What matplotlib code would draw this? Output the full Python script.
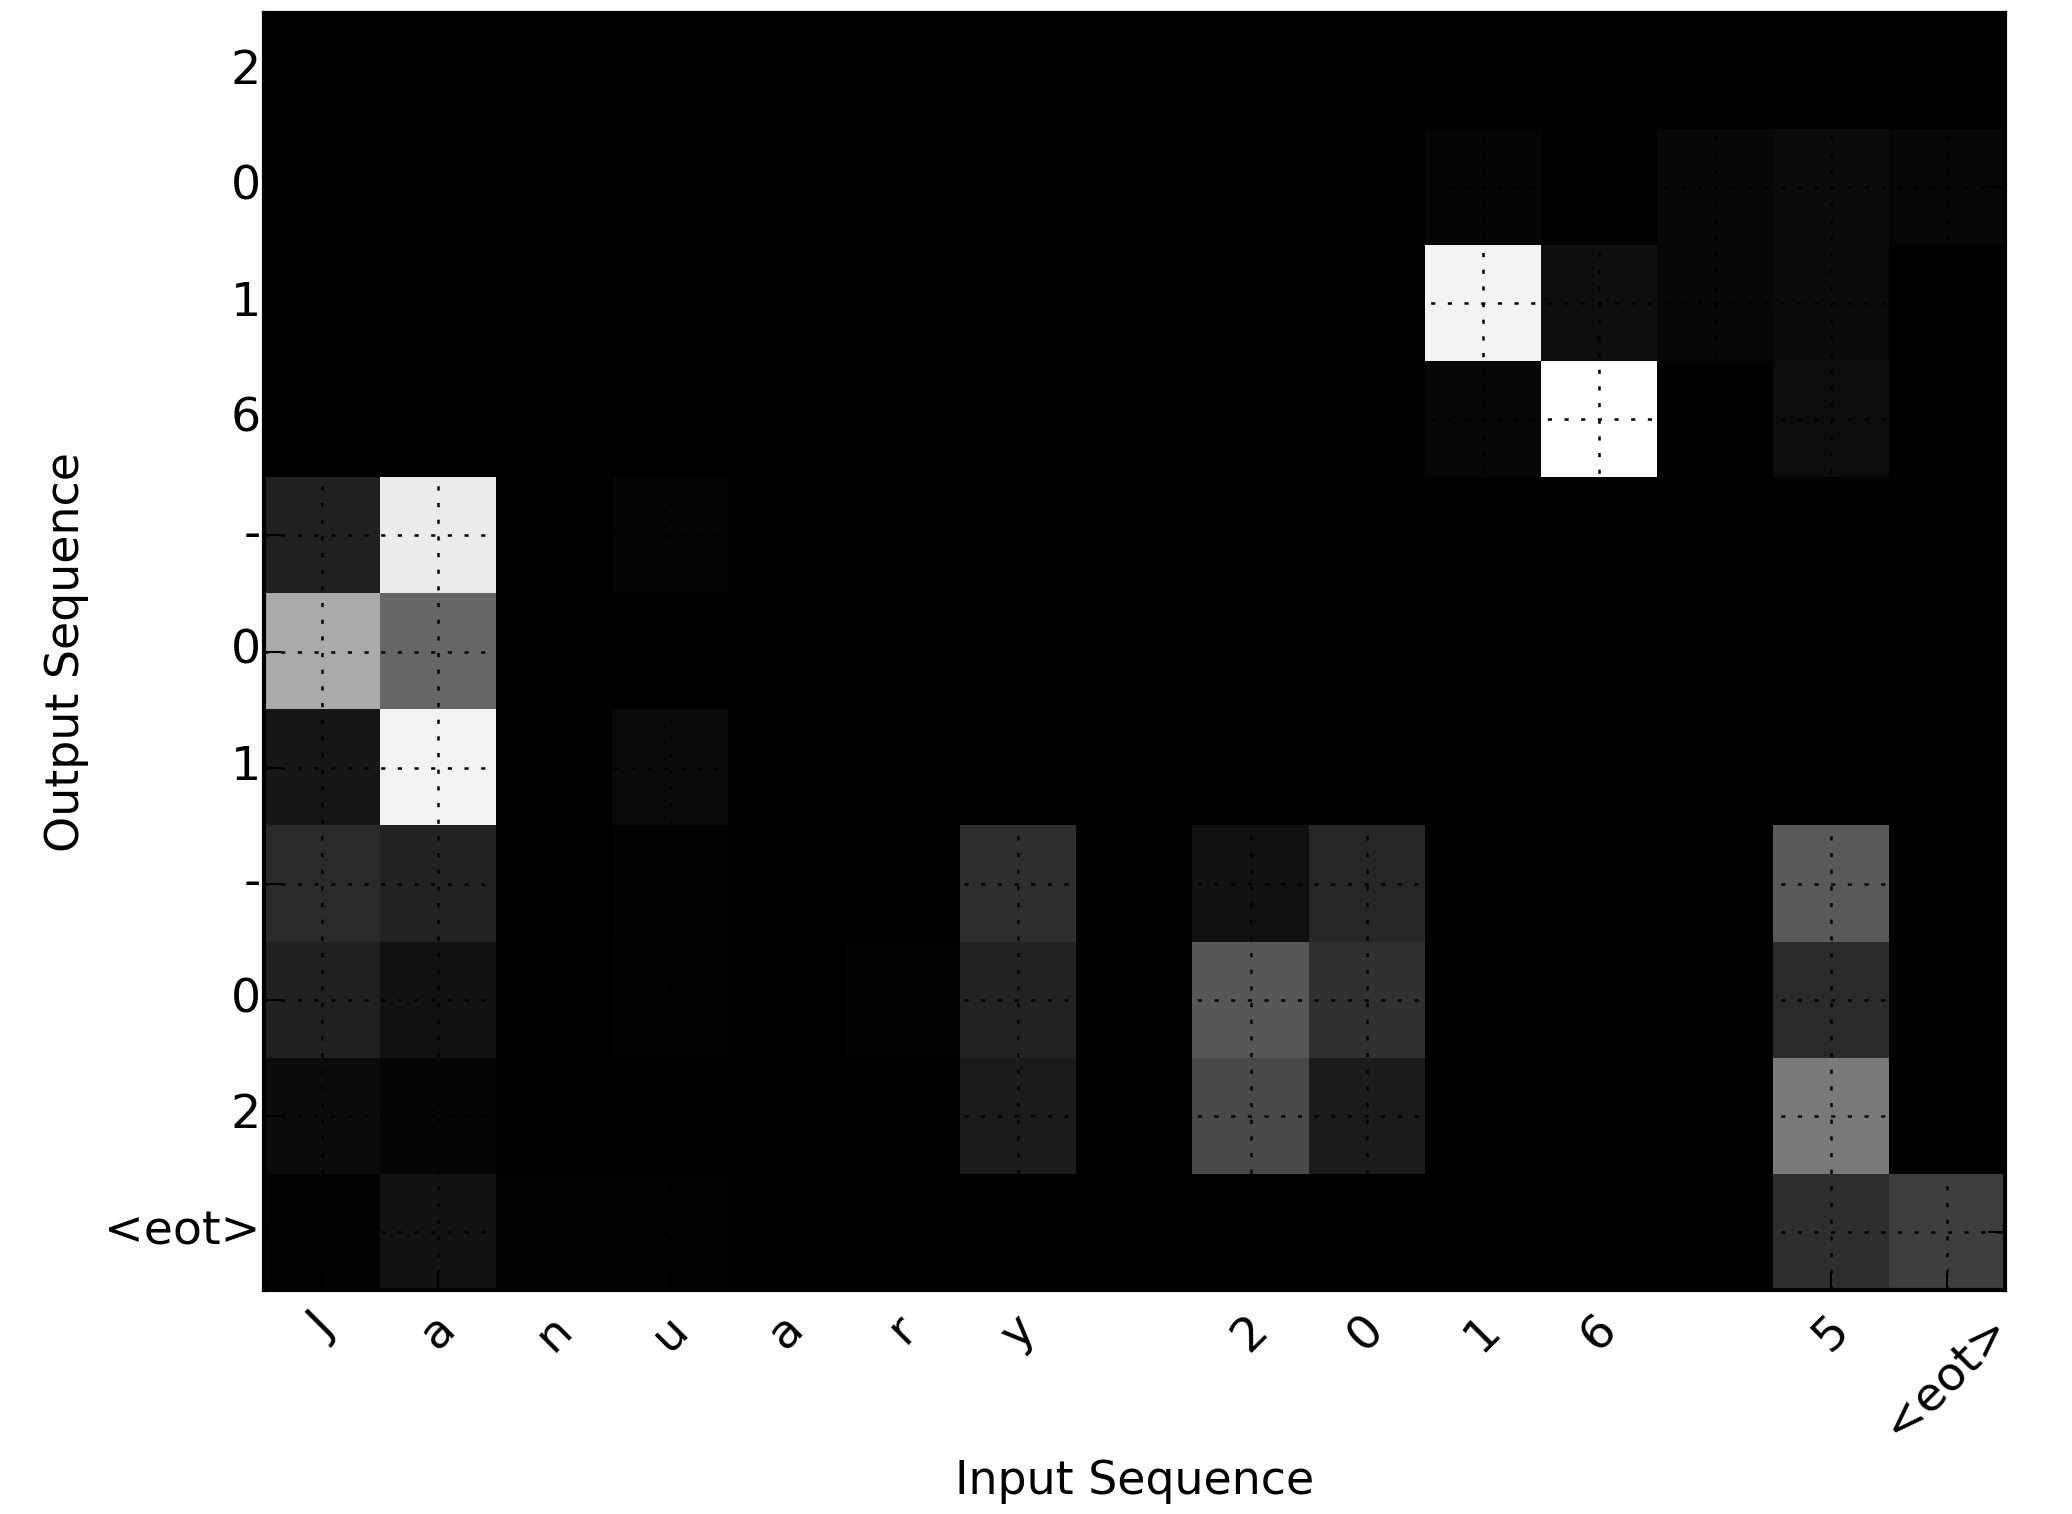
import matplotlib
matplotlib.use("Agg")
import matplotlib.pyplot as plt
import numpy as np

plt.style.use("classic")

input_labels = ["J", "a", "n", "u", "a", "r", "y", " ", "2", "0", "1", "6", " ", "5", "<eot>"]
output_labels = ["2", "0", "1", "6", "-", "0", "1", "-", "0", "2", "<eot>"]

row_2a = [0, 0, 0, 0, 0, 0, 0, 0, 0, 0, 0, 0, 0, 0, 0]
row_0a = [0, 0, 0, 0, 0, 0, 0, 0, 0, 0, 0.02, 0, 0.03, 0.043, 0.024]
row_1a = [0, 0, 0, 0, 0, 0, 0, 0, 0, 0, 0.953, 0.055, 0.03, 0.043, 0]
row_6 = [0, 0, 0, 0, 0, 0, 0, 0, 0, 0, 0.027, 1.0, 0, 0.047, 0]
row_dash1 = [0.125, 0.925, 0, 0.02, 0, 0, 0, 0, 0, 0, 0, 0, 0, 0, 0]
row_0b = [0.667, 0.40, 0, 0, 0, 0, 0, 0, 0, 0, 0, 0, 0, 0, 0]
row_1b = [0.086, 0.95, 0, 0.04, 0, 0, 0, 0, 0, 0, 0, 0, 0, 0, 0]
row_dash2 = [0.165, 0.133, 0, 0.01, 0, 0, 0.18, 0, 0.067, 0.15, 0, 0, 0, 0.35, 0]
row_0c = [0.125, 0.067, 0, 0.015, 0, 0.008, 0.133, 0, 0.34, 0.19, 0, 0, 0, 0.165, 0]
row_2b = [0.043, 0.02, 0, 0, 0, 0, 0.106, 0, 0.29, 0.106, 0, 0, 0, 0.48, 0]
row_eot = [0.012, 0.078, 0.008, 0.012, 0, 0, 0, 0, 0, 0, 0, 0, 0, 0.18, 0.243]

attention = np.array([row_2a, row_0a, row_1a, row_6, row_dash1, row_0b,
                      row_1b, row_dash2, row_0c, row_2b, row_eot])

fig = plt.figure(figsize=(2072 / 300, 1514 / 300), dpi=300, facecolor="white")
ax = fig.add_axes([264 / 2072, 1 - 1290 / 1514, (2005 - 264) / 2072, (1290 - 13) / 1514])
ax.imshow(attention, cmap="gray", vmin=0, vmax=1, interpolation="nearest", aspect="auto")
ax.set_xticks(np.arange(len(input_labels)))
ax.set_xticklabels(input_labels, rotation=45, fontsize=11.4)
ax.set_yticks(np.arange(len(output_labels)))
ax.set_yticklabels(output_labels, fontsize=11.4)
ax.tick_params(axis="y", pad=0.8)
ax.tick_params(axis="x", pad=4)
ax.grid(True, color="k", linestyle=":", linewidth=0.6)
ax.set_xlabel("Input Sequence", fontsize=11)
ax.set_ylabel("Output Sequence", fontsize=11)
ax.xaxis.set_label_coords(0.5, -0.1323)
ax.yaxis.set_label_coords(-0.1003, 0.5)

fig.savefig("out.png", dpi=300, facecolor="white")
